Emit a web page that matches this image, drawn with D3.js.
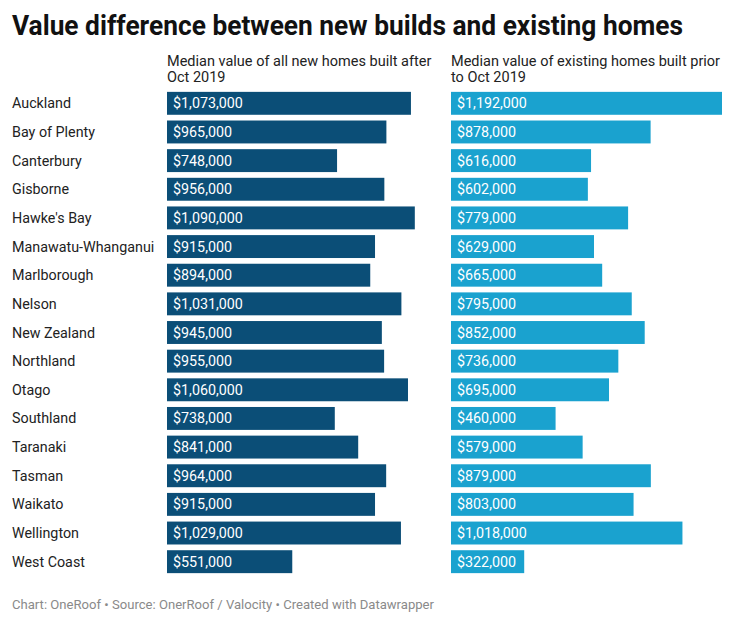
<!DOCTYPE html>
<html><head><meta charset="utf-8">
<script src="https://cdn.jsdelivr.net/npm/d3@7"></script>
<style>body{margin:0;background:#fff;} text{font-family:Roboto,"Noto Sans",sans-serif;}</style>
</head><body>
<svg id="c" width="740" height="625"></svg>
<script>
const regions = ["Auckland","Bay of Plenty","Canterbury","Gisborne","Hawke's Bay","Manawatu-Whanganui","Marlborough","Nelson","New Zealand","Northland","Otago","Southland","Taranaki","Tasman","Waikato","Wellington","West Coast"];
const newHomes = [1073000,965000,748000,956000,1090000,915000,894000,1031000,945000,955000,1060000,738000,841000,964000,915000,1029000,551000];
const existingHomes = [1192000,878000,616000,602000,779000,629000,665000,795000,852000,736000,695000,460000,579000,879000,803000,1018000,322000];
const seriesTitles = [["Median value of all new homes built after","Oct 2019"],["Median value of existing homes built prior","to Oct 2019"]];
const seriesColors = ["#0b4e77","#1aa2cf"];

const svg = d3.select("#c");
svg.append("text").attr("x",12).attr("y",35).attr("font-size",28).attr("font-weight",700)
  .attr("fill","#111").attr("textLength",671).attr("lengthAdjust","spacingAndGlyphs")
  .text("Value difference between new builds and existing homes");

const y = d3.scaleBand().domain(regions).range([89,576]).paddingInner(0.2).paddingOuter(0.1);
const panelW = 271;
const x = d3.scaleLinear().domain([0,1192000]).range([0,panelW]);
const panels = [{x0:167,vals:newHomes},{x0:451,vals:existingHomes}];
const fmt = v => "$" + d3.format(",")(v);

svg.append("g").selectAll("text").data(regions).join("text")
  .attr("x",12).attr("y",d=>y(d)+y.bandwidth()/2).attr("dy","0.35em")
  .attr("font-size",14.3).attr("fill","#222").text(d=>d);

panels.forEach((p,i)=>{
  const g = svg.append("g").attr("transform",`translate(${p.x0},0)`);
  seriesTitles[i].forEach((t,j)=>{
    g.append("text").attr("x",0).attr("y",66+j*16).attr("font-size",14.5).attr("fill","#222").text(t);
  });
  g.selectAll("rect").data(regions).join("rect")
    .attr("x",0).attr("y",d=>y(d)).attr("height",y.bandwidth())
    .attr("width",(d,k)=>x(p.vals[k])).attr("fill",seriesColors[i]);
  g.selectAll("text.v").data(regions).join("text").attr("class","v")
    .attr("x",6).attr("y",d=>y(d)+y.bandwidth()/2).attr("dy","0.35em")
    .attr("font-size",14.3).attr("fill","#fff").text((d,k)=>fmt(p.vals[k]));
});

svg.append("text").attr("x",12).attr("y",609).attr("font-size",13).attr("fill","#8a8a8a")
  .attr("textLength",422).attr("lengthAdjust","spacingAndGlyphs")
  .text("Chart: OneRoof • Source: OnerRoof / Valocity • Created with Datawrapper");
</script>
</body></html>
